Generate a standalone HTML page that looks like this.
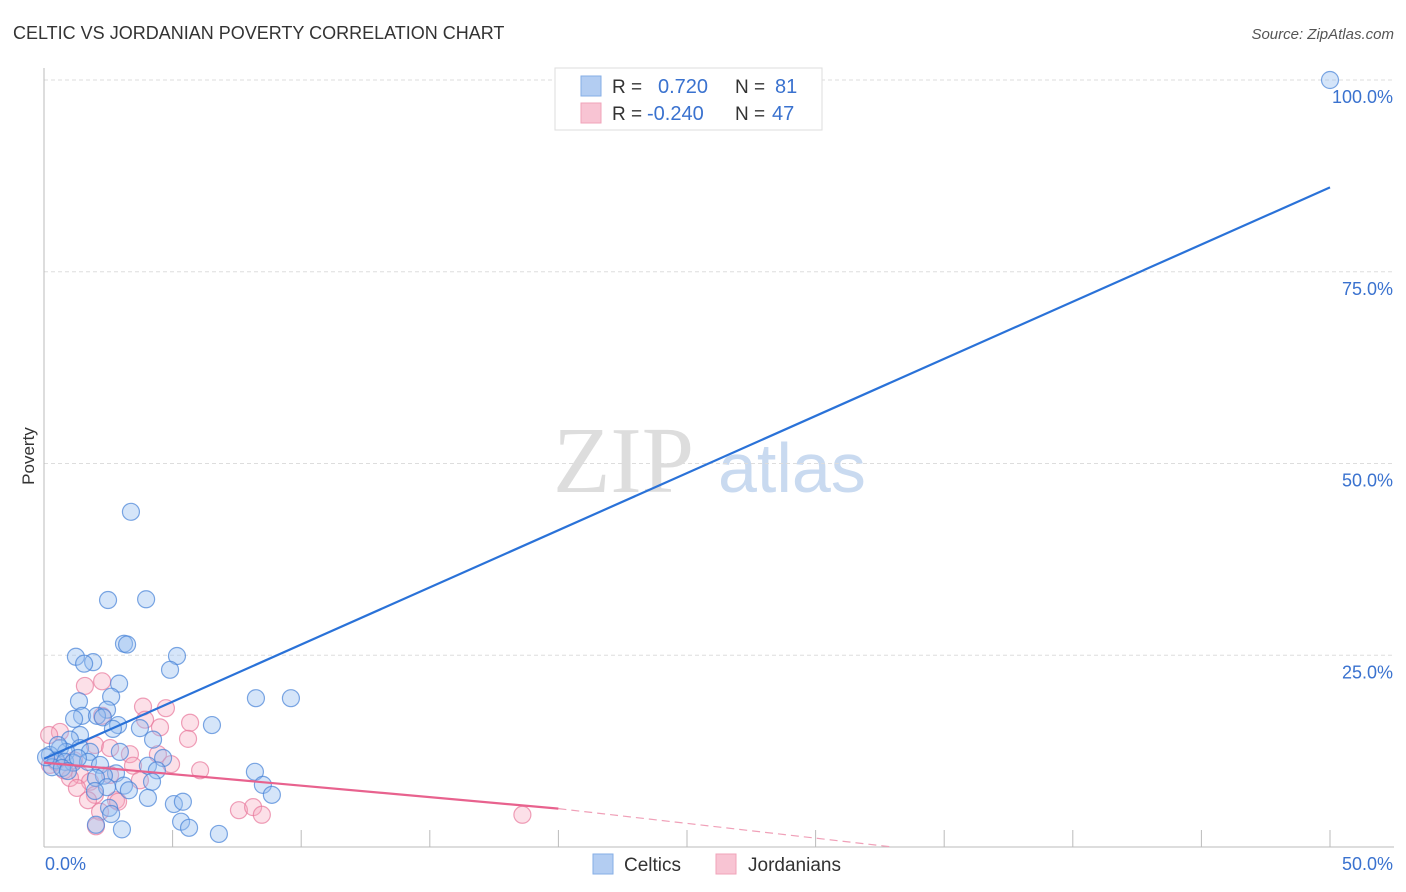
<!DOCTYPE html>
<html><head><meta charset="utf-8"><style>
body{margin:0;background:#fff;font-family:"Liberation Sans",sans-serif;}
svg{display:block}
</style></head><body>
<svg width="1406" height="892" viewBox="0 0 1406 892">
<text x="13" y="39" font-size="18" fill="#333">CELTIC VS JORDANIAN POVERTY CORRELATION CHART</text>
<text x="1394" y="39" font-size="15" fill="#555" font-style="italic" text-anchor="end">Source: ZipAtlas.com</text>
<text x="34" y="456" font-size="17" fill="#333" transform="rotate(-90 34 456)" text-anchor="middle">Poverty</text>
<g>
<text x="553" y="492" font-size="94" font-family="Liberation Serif,serif" fill="#ddd">ZIP</text>
<text x="718" y="492" font-size="70" fill="#c9daf0">atlas</text>
</g>
<g id="grid"></g><g id="axes"></g><g id="pts"></g><g id="lines"></g>
<g>
<rect x="555" y="68" width="267" height="62" fill="#fff" stroke="#ddd"/>
<rect x="581" y="76" width="20" height="20" fill="#b3cdf2" stroke="#86aee6"/>
<text x="612" y="93" font-size="19" fill="#333">R =</text>
<text x="658" y="93" font-size="20" fill="#3a72cf">0.720</text>
<text x="735" y="93" font-size="19" fill="#333">N =</text>
<text x="775" y="93" font-size="20" fill="#3a72cf">81</text>
<rect x="581" y="103" width="20" height="20" fill="#f8c4d3" stroke="#f0a3ba"/>
<text x="612" y="120" font-size="19" fill="#333">R =</text>
<text x="647" y="120" font-size="20" fill="#3a72cf">-0.240</text>
<text x="735" y="120" font-size="19" fill="#333">N =</text>
<text x="772" y="120" font-size="20" fill="#3a72cf">47</text>
</g>
<g>
<rect x="593" y="854" width="20" height="20" fill="#b3cdf2" stroke="#86aee6"/>
<text x="624" y="871" font-size="19" fill="#333">Celtics</text>
<rect x="716" y="854" width="20" height="20" fill="#f8c4d3" stroke="#f0a3ba"/>
<text x="748" y="871" font-size="19" fill="#333">Jordanians</text>
</g>
</svg>
<script>
const blueX=[50,3.38,2.49,3.97,3.11,3.23,1.24,1.91,1.56,5.17,4.90,2.92,2.61,1.36,8.24,9.60,2.45,1.48,2.06,2.29,1.17,6.53,2.88,2.68,3.73,1.40,1.01,4.24,0.62,1.40,0.86,1.79,2.95,4.63,0.23,0.47,0.82,1.13,1.71,2.18,0.31,0.70,4.04,4.39,8.20,2.80,2.33,2.02,4.20,8.51,3.11,2.45,8.86,1.98,4.04,3.30,5.05,5.40,2.53,2.61,5.33,5.64,2.02,3.03,6.80,0.54,0.08,1.32,0.93];
const blueY=[100,43.7,32.2,32.3,26.5,26.4,24.8,24.1,23.9,24.9,23.1,21.3,19.6,19.0,19.4,19.4,17.9,17.1,17.1,16.9,16.7,15.9,15.9,15.4,15.5,14.6,14.0,14.0,12.9,12.9,12.4,12.4,12.4,11.6,12.0,11.3,11.1,11.0,11.1,10.7,10.4,10.3,10.6,10.0,9.8,9.6,9.3,9.0,8.5,8.1,8.0,7.8,6.8,7.3,6.4,7.4,5.6,5.9,5.1,4.3,3.3,2.5,2.9,2.3,1.7,13.3,11.7,11.6,9.9];
const pinkX=[1.59,2.26,3.85,4.74,3.93,4.51,5.68,5.60,2.26,0.62,0.2,1.98,3.34,4.43,4.94,3.46,6.07,1.40,1.01,2.57,1.79,1.28,1.98,1.71,2.80,2.18,2.88,7.58,8.13,8.47,18.6,2.02,0.47,0.78,0.23,1.17,2.57,3.73];
const pinkY=[21.0,21.6,18.3,18.1,16.6,15.6,16.2,14.1,17.1,15.0,14.6,13.3,12.1,12.1,10.8,10.6,10.0,9.4,9.0,9.4,8.5,7.7,6.8,6.1,6.1,4.6,5.9,4.8,5.2,4.2,4.2,2.7,11.1,10.0,10.7,11.3,12.9,8.7];
const blueLine=[[0,11.5],[50,86]];
const pinkLine=[[0,11.0],[20,5.0]];
const pinkDash=[[20,5.0],[33,0]];
const yTicks=[25,50,75,100];
const yTickLabels=["25.0%","50.0%","75.0%","100.0%"];
const xTicks=[0,5,10,15,20,25,30,35,40,45,50];
const NS="http://www.w3.org/2000/svg";
const sx=v=>44+v*25.72, sy=v=>847-v*7.67;
function mk(tag,attrs,parent){const e=document.createElementNS(NS,tag);for(const k in attrs)e.setAttribute(k,attrs[k]);document.getElementById(parent).appendChild(e);return e;}
yTicks.forEach((t,i)=>{
 const g=mk('line',{x1:44,x2:1394,y1:sy(t),y2:sy(t),stroke:'#ddd','stroke-dasharray':'4,3'},'grid');
 
 
 const l=mk('text',{x:1393,y:sy(t)+23,'font-size':18,fill:'#3a72cf','text-anchor':'end'},'grid');
 l.textContent=yTickLabels[i];
 
 
});
let a=mk('line',{x1:44,x2:44,y1:68,y2:847,stroke:'#bbb'},'axes');


a=mk('line',{x1:44,x2:1394,y1:847,y2:847,stroke:'#bbb'},'axes');


xTicks.forEach(t=>{const l=mk('line',{x1:sx(t),x2:sx(t),y1:830,y2:847,stroke:'#bbb'},'axes');
 
 });
let t=mk('text',{x:45,y:870,'font-size':18,fill:'#3a72cf'},'axes');t.textContent='0.0%';


t=mk('text',{x:1393,y:870,'font-size':18,fill:'#3a72cf','text-anchor':'end'},'axes');t.textContent='50.0%';


pinkX.forEach((x,i)=>{const c=mk('circle',{cx:sx(x),cy:sy(pinkY[i]),r:8.5,fill:'rgba(245,165,188,0.35)',stroke:'rgba(232,120,155,0.7)','stroke-width':1.2},'pts');
 
 });
blueX.forEach((x,i)=>{const c=mk('circle',{cx:sx(x),cy:sy(blueY[i]),r:8.5,fill:'rgba(150,190,240,0.4)',stroke:'rgba(70,130,215,0.7)','stroke-width':1.2},'pts');
 
 });
let L=mk('line',{x1:sx(blueLine[0][0]),y1:sy(blueLine[0][1]),x2:sx(blueLine[1][0]),y2:sy(blueLine[1][1]),stroke:'#2a72d8','stroke-width':2.2},'lines');


L=mk('line',{x1:sx(pinkLine[0][0]),y1:sy(pinkLine[0][1]),x2:sx(pinkLine[1][0]),y2:sy(pinkLine[1][1]),stroke:'#e8628e','stroke-width':2.2},'lines');


L=mk('line',{x1:sx(pinkDash[0][0]),y1:sy(pinkDash[0][1]),x2:sx(pinkDash[1][0]),y2:sy(pinkDash[1][1]),stroke:'#f0a0b8','stroke-width':1.2,'stroke-dasharray':'8,5'},'lines');


</script>
</body></html>
